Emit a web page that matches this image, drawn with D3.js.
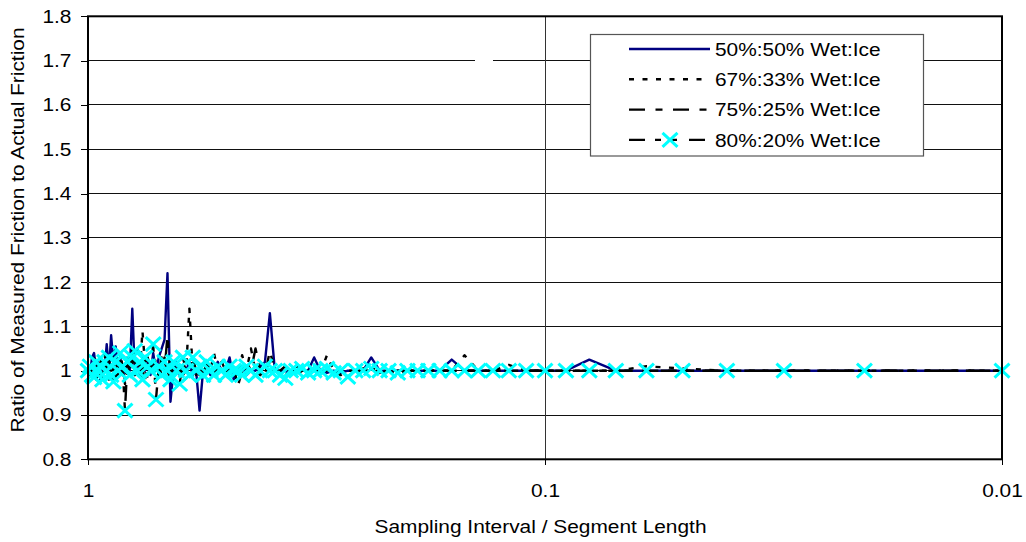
<!DOCTYPE html>
<html lang="en">
<head>
<meta charset="utf-8">
<title>Ratio of Measured Friction</title>
<script src="https://cdnjs.cloudflare.com/ajax/libs/d3/7.8.5/d3.min.js"></script>
<style>
  html, body { margin: 0; padding: 0; background: #fff; }
  svg { display: block; }
  text { font-family: "Liberation Sans", Arial, sans-serif; font-size: 18.5px; fill: #000; }
</style>
</head>
<body>
<div id="chart"></div>
<script>
// sampling interval / segment length (x), 1.00 down to 0.01
const interval = [1.00,0.99,0.98,0.97,0.96,0.95,0.94,0.93,0.92,0.91,0.90,0.89,0.88,0.87,0.86,0.85,0.84,0.83,0.82,0.81,
  0.80,0.79,0.78,0.77,0.76,0.75,0.74,0.73,0.72,0.71,0.70,0.69,0.68,0.67,0.66,0.65,0.64,0.63,0.62,0.61,
  0.60,0.59,0.58,0.57,0.56,0.55,0.54,0.53,0.52,0.51,0.50,0.49,0.48,0.47,0.46,0.45,0.44,0.43,0.42,0.41,
  0.40,0.39,0.38,0.37,0.36,0.35,0.34,0.33,0.32,0.31,0.30,0.29,0.28,0.27,0.26,0.25,0.24,0.23,0.22,0.21,
  0.20,0.19,0.18,0.17,0.16,0.15,0.14,0.13,0.12,0.11,0.10,0.09,0.08,0.07,0.06,0.05,0.04,0.03,0.02,0.01];

const wet50 = [1.00,0.99,1.03,1.04,1.00,1.02,0.98,1.01,1.00,1.06,1.00,1.08,1.02,1.055,1.01,1.03,0.99,1.00,1.02,1.00,
  1.14,1.00,1.02,0.99,1.03,1.00,1.02,0.99,1.04,1.00,1.03,1.05,1.07,1.22,0.93,1.00,1.02,0.99,1.01,1.00,
  1.02,0.99,1.00,0.91,1.00,1.01,0.99,1.00,1.02,1.00,1.00,1.03,0.98,1.00,1.01,0.99,1.00,1.00,1.01,1.02,
  1.13,1.00,1.00,1.00,0.99,1.00,1.00,1.00,1.03,1.00,0.995,1.00,0.995,1.00,1.00,1.00,1.03,1.00,1.00,1.00,
  1.00,1.00,1.00,1.00,1.025,1.00,1.00,1.00,1.00,1.00,1.00,1.00,1.025,1.00,1.00,1.00,1.00,1.00,1.00,1.00];

const wet67 = [1.00,1.02,0.99,1.03,1.01,0.98,1.02,1.00,1.04,0.99,1.02,1.00,1.03,0.98,1.01,1.04,1.00,0.97,1.02,1.00,
  1.05,0.99,1.02,1.00,1.09,1.01,0.98,1.02,1.00,1.03,0.99,1.01,1.03,1.00,1.02,0.99,1.01,1.00,1.02,1.00,
  1.14,1.00,0.99,1.01,1.00,1.02,1.00,1.04,1.00,0.99,1.01,1.00,1.02,0.99,1.035,1.00,1.05,1.00,0.99,1.00,
  1.02,1.00,1.00,0.99,1.00,1.01,1.00,1.00,1.00,0.995,1.035,1.00,0.99,1.00,1.00,1.005,1.00,1.00,1.00,0.995,
  1.00,1.00,1.00,1.00,1.00,1.035,1.00,1.00,1.013,1.00,1.00,1.00,1.00,1.00,1.01,1.005,1.00,1.00,1.00,1.00];

const wet75 = [1.00,0.99,1.02,1.00,0.97,1.01,1.03,0.99,1.00,1.02,0.98,1.01,1.00,1.04,0.99,1.02,1.00,0.98,1.03,1.00,
  1.02,0.99,1.05,1.00,1.01,0.98,1.03,1.00,0.99,1.02,1.00,1.03,1.00,1.08,0.99,1.01,1.00,1.02,0.99,1.00,
  1.01,1.00,1.02,0.99,1.00,1.01,1.00,0.99,1.00,1.02,1.00,1.00,1.01,0.965,1.00,1.02,1.00,1.05,1.00,0.99,
  1.045,1.00,1.00,1.01,1.00,0.99,1.00,1.00,1.01,1.00,1.00,0.99,1.00,1.00,1.00,1.00,1.00,0.995,1.00,1.00,
  1.00,1.00,1.00,1.00,1.00,1.00,1.00,1.00,1.00,1.00,1.00,1.00,1.00,1.00,1.00,1.00,1.00,1.00,1.00,1.00];

const wet80 = [1.00,1.01,0.99,0.985,1.02,1.00,1.01,0.98,1.02,1.00,1.03,0.99,0.975,1.02,1.00,1.04,1.01,0.91,1.02,0.99,
  1.03,1.045,1.00,1.02,0.98,1.03,1.01,1.00,1.06,0.935,1.01,0.99,1.02,1.00,0.98,1.02,1.00,0.97,1.03,1.00,
  0.99,1.03,1.00,1.01,0.99,1.02,1.00,0.99,1.01,1.00,0.99,1.01,1.00,1.00,0.99,1.01,1.00,0.99,1.00,1.01,
  1.00,1.00,0.99,0.983,1.00,1.00,1.005,0.995,1.00,1.00,1.005,0.995,1.00,0.986,1.00,1.00,1.005,1.00,1.00,0.995,
  1.00,1.00,1.00,1.00,1.00,1.00,1.00,1.00,1.00,1.00,1.00,1.00,1.00,1.00,1.00,1.00,1.00,1.00,1.00,1.00];

const seriesNames = ["50%:50% Wet:Ice", "67%:33% Wet:Ice", "75%:25% Wet:Ice", "80%:20% Wet:Ice"];
const yTicks = [0.8, 0.9, 1.0, 1.1, 1.2, 1.3, 1.4, 1.5, 1.6, 1.7, 1.8];
const yTickLabels = ["0.8", "0.9", "1", "1.1", "1.2", "1.3", "1.4", "1.5", "1.6", "1.7", "1.8"];
const xTicks = [1, 0.1, 0.01];
const xTickLabels = ["1", "0.1", "0.01"];

const width = 1026, height = 542;
const SX = 1.13; // text in the original is a little wider than plain Arial

const svg = d3.select("#chart").append("svg")
  .attr("width", width)
  .attr("height", height);

const x = d3.scaleLog().domain([1, 0.01]).range([88, 1002]);
const y = d3.scaleLinear().domain([0.8, 1.8]).range([459.3, 16.3]);

function widen(sel) {
  sel.each(function() {
    const t = d3.select(this);
    const tx = +t.attr("x") || 0, ty = +t.attr("y") || 0;
    t.attr("x", 0).attr("y", 0).attr("transform", `translate(${tx},${ty}) scale(${SX},1)`);
  });
}

// horizontal grid
svg.append("g")
  .selectAll("line")
  .data(yTicks.slice(1, -1))
  .join("line")
    .attr("x1", 88).attr("x2", 1002)
    .attr("y1", d => y(d)).attr("y2", d => y(d))
    .attr("stroke", "#111")
    .attr("stroke-width", 1)
    .attr("shape-rendering", "crispEdges");

// vertical grid at 0.1
svg.append("line")
  .attr("x1", x(0.1)).attr("x2", x(0.1))
  .attr("y1", y(1.8)).attr("y2", y(0.8))
  .attr("stroke", "#333")
  .attr("shape-rendering", "crispEdges");

// small break in the 1.7 gridline seen in the original
svg.append("rect")
  .attr("x", 475).attr("y", y(1.7) - 2)
  .attr("width", 18).attr("height", 4)
  .attr("fill", "#fff");

// axes
const yAxis = svg.append("g")
  .attr("transform", "translate(88,0)")
  .call(d3.axisLeft(y).tickValues(yTicks).tickSize(7).tickPadding(9.5)
    .tickFormat((d, i) => yTickLabels[i]));
yAxis.select(".domain").remove();
yAxis.selectAll("line").attr("stroke", "#000").attr("shape-rendering", "crispEdges");
yAxis.selectAll("text").attr("font-size", null).attr("font-family", null);
widen(yAxis.selectAll("text"));

const xAxis = svg.append("g")
  .attr("transform", "translate(0,459.3)")
  .call(d3.axisBottom(x).tickValues(xTicks).tickSize(6).tickPadding(18.6)
    .tickFormat((d, i) => xTickLabels[i]));
xAxis.select(".domain").remove();
xAxis.selectAll("line").attr("stroke", "#000").attr("shape-rendering", "crispEdges");
xAxis.selectAll("text").attr("font-size", null).attr("font-family", null);
widen(xAxis.selectAll("text"));

// series lines
const styles = [
  { values: wet50, color: "#000080", dash: null },
  { values: wet67, color: "#000", dash: "5,8.5" },
  { values: wet75, color: "#000", dash: "16,10.5,7,10.5" },
  { values: wet80, color: "#000", dash: "16,10,6,10,6,12" }
];

const line = d3.line()
  .x((d, i) => x(interval[i]))
  .y(d => y(d));

svg.append("g")
  .selectAll("path")
  .data(styles)
  .join("path")
    .attr("d", d => line(d.values))
    .attr("fill", "none")
    .attr("stroke", d => d.color)
    .attr("stroke-width", 2.4)
    .attr("stroke-linejoin", "round")
    .attr("stroke-dasharray", d => d.dash);

// cross markers of the last series
const cross = "M-7.5,-7L7.5,7M-7.5,7L7.5,-7";
svg.append("g")
  .selectAll("path")
  .data(wet80)
  .join("path")
    .attr("transform", (d, i) => `translate(${x(interval[i])},${y(d)})`)
    .attr("d", cross)
    .attr("stroke", "#00ffff")
    .attr("stroke-width", 3)
    .attr("fill", "none");

// plot frame
svg.append("rect")
  .attr("x", 88).attr("y", 16.3)
  .attr("width", 1002 - 88).attr("height", 459.3 - 16.3)
  .attr("fill", "none")
  .attr("stroke", "#000")
  .attr("stroke-width", 2);

// legend
const legend = svg.append("g");
legend.append("rect")
  .attr("x", 590.5).attr("y", 34.5)
  .attr("width", 333).attr("height", 121.5)
  .attr("fill", "#fff")
  .attr("stroke", "#555")
  .attr("stroke-width", 1.2);

const rows = legend.selectAll("g.row")
  .data(styles)
  .join("g")
    .attr("class", "row")
    .attr("transform", (d, i) => `translate(0,${49 + i * 30.3})`);

rows.append("line")
  .attr("x1", 629).attr("x2", 710)
  .attr("stroke", d => d.color)
  .attr("stroke-width", 2.4)
  .attr("stroke-dasharray", d => d.dash);

rows.filter((d, i) => i === 3).append("path")
  .attr("transform", "translate(670,0)")
  .attr("d", cross)
  .attr("stroke", "#00ffff")
  .attr("stroke-width", 3);

rows.append("text")
  .attr("x", 715).attr("y", 6.6)
  .text((d, i) => seriesNames[i]);
widen(rows.selectAll("text"));

// axis titles
svg.append("text")
  .attr("text-anchor", "middle")
  .attr("transform", `translate(540.5,533.3) scale(${SX},1)`)
  .text("Sampling Interval / Segment Length");

svg.append("text")
  .attr("text-anchor", "middle")
  .attr("transform", `translate(24,230) rotate(-90) scale(${SX},1)`)
  .text("Ratio of Measured Friction to Actual Friction");
</script>
</body>
</html>
